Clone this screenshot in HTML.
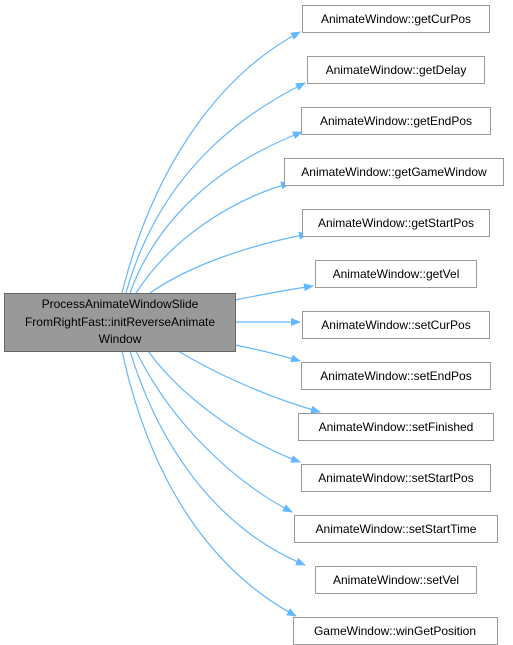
<!DOCTYPE html>
<html><head><meta charset="utf-8"><style>
body{margin:0;background:#fff;}
svg{display:block}
text{font-family:"Liberation Sans",Arial,sans-serif;font-size:12px;fill:#000}
</style></head><body>
<svg width="513" height="645" viewBox="0 0 513 645" xmlns="http://www.w3.org/2000/svg">
<defs><marker id="a" markerWidth="10" markerHeight="8" refX="9" refY="4" orient="auto" markerUnits="userSpaceOnUse"><path d="M0,0 L10,4 L0,8 z" fill="#63b8ff"/></marker></defs>
<g fill="none" stroke="#63b8ff" stroke-width="1.2" marker-end="url(#a)">
<path d="M122,293 C150,180 210,80 300,32"/>
<path d="M126,293 C155,190 220,125 305,83"/>
<path d="M130,293 C160,210 230,160 302,132"/>
<path d="M136,293 C170,240 230,200 290,183"/>
<path d="M150,293 C190,265 250,245 308,234"/>
<path d="M235,300 C260,295 285,290 313,286"/>
<path d="M235,322 L300,322"/>
<path d="M235,345 C260,350 280,355 300,361"/>
<path d="M178,351 C210,370 260,395 320,412"/>
<path d="M148,351 C180,395 240,440 300,462"/>
<path d="M136,351 C170,420 230,480 292,512"/>
<path d="M130,351 C160,450 220,530 305,565"/>
<path d="M122,351 C150,480 210,570 296,616"/>
</g>
<rect x="4.5" y="293.5" width="231" height="58" fill="#999" stroke="#666"/>
<text x="120" y="308" text-anchor="middle">ProcessAnimateWindowSlide</text>
<text x="120" y="326" text-anchor="middle">FromRightFast::initReverseAnimate</text>
<text x="120" y="343" text-anchor="middle">Window</text>
<g fill="#fff" stroke="#999">
<rect x="302.5" y="5.5" width="187" height="27"/>
<rect x="307.5" y="56.5" width="177" height="27"/>
<rect x="301.5" y="107.5" width="189" height="27"/>
<rect x="284.5" y="158.5" width="219" height="27"/>
<rect x="302.5" y="209.5" width="187" height="27"/>
<rect x="315.5" y="260.5" width="161" height="27"/>
<rect x="302.5" y="311.5" width="187" height="27"/>
<rect x="301.5" y="362.5" width="189" height="27"/>
<rect x="298.5" y="413.5" width="195" height="27"/>
<rect x="301.5" y="464.5" width="189" height="27"/>
<rect x="294.5" y="515.5" width="203" height="27"/>
<rect x="315.5" y="566.5" width="161" height="27"/>
<rect x="293.5" y="617.5" width="204" height="27"/>
</g>
<g text-anchor="middle">
<text x="396" y="23">AnimateWindow::getCurPos</text>
<text x="396" y="74">AnimateWindow::getDelay</text>
<text x="396" y="125">AnimateWindow::getEndPos</text>
<text x="394" y="176">AnimateWindow::getGameWindow</text>
<text x="396" y="227">AnimateWindow::getStartPos</text>
<text x="396" y="278">AnimateWindow::getVel</text>
<text x="396" y="329">AnimateWindow::setCurPos</text>
<text x="396" y="380">AnimateWindow::setEndPos</text>
<text x="396" y="431">AnimateWindow::setFinished</text>
<text x="396" y="482">AnimateWindow::setStartPos</text>
<text x="396" y="533">AnimateWindow::setStartTime</text>
<text x="396" y="584">AnimateWindow::setVel</text>
<text x="395" y="635">GameWindow::winGetPosition</text>
</g>
</svg>
</body></html>
